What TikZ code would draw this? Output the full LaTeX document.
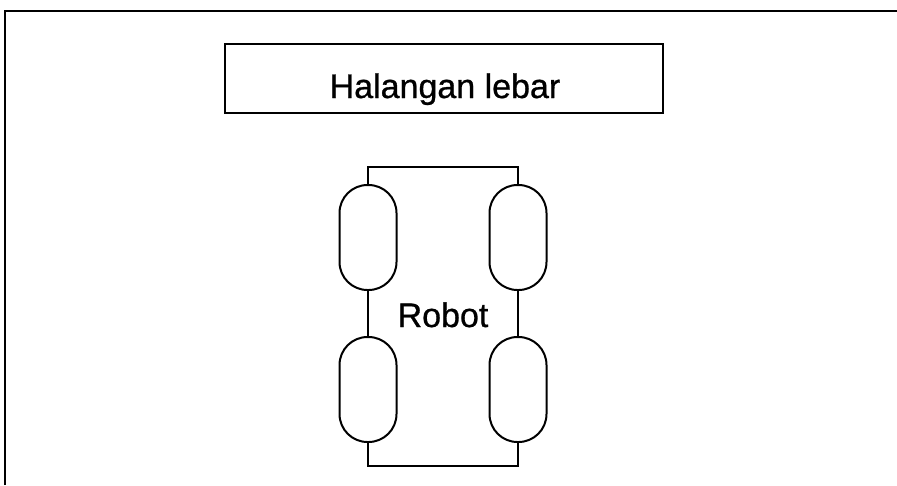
\documentclass[tikz,border=0pt]{standalone}
\usepackage{fontspec}
\setmainfont[FakeBold=0.8]{Liberation Sans}
\begin{document}
\begin{tikzpicture}[x=1pt,y=-1pt,
  line/.style={draw=black,line width=2pt},
  wheel/.style={line,rectangle,rounded corners=28pt,minimum width=57pt,minimum height=105pt,inner sep=0pt},
  label/.style={font=\fontsize{34}{40}\selectfont,anchor=base,inner sep=0pt}]
\useasboundingbox (0,0) rectangle (897,485);
% outer frame (top and left edges visible)
\coordinate (fs) at (5,485);
\coordinate (fc) at (5,11);
\coordinate (fe) at (897,11);
\draw[line] (fs) -- (fc) -- (fe);
% title box
\node[line,minimum width=438pt,minimum height=69pt,inner sep=0pt] (box) at (444,78.5) {};
\node[label] (title) at (445,98) {Halangan lebar};
% wheels
\node[wheel] (w1) at (368,237.5) {};
\node[wheel] (w2) at (368,389.5) {};
\node[wheel] (w3) at (518,237.5) {};
\node[wheel] (w4) at (518,389.5) {};
% body
\coordinate (tl) at (368,167);
\coordinate (tr) at (518,167);
\coordinate (bl) at (368,466);
\coordinate (br) at (518,466);
\draw[line] (w1.north) -- (tl) -- (tr) -- (w3.north);
\draw[line] (w1.south) -- (w2.north);
\draw[line] (w3.south) -- (w4.north);
\draw[line] (w2.south) -- (bl) -- (br) -- (w4.south);
\node[label] (robot) at (443,327) {Robot};
\end{tikzpicture}
\end{document}
